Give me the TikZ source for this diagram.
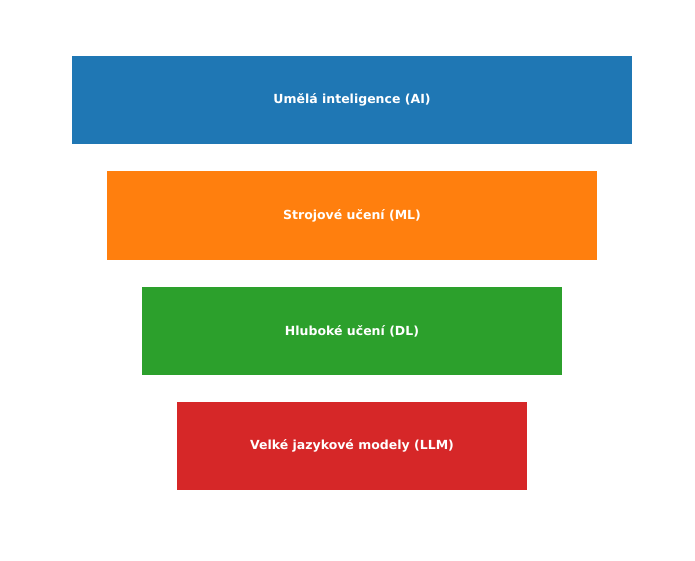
\documentclass[tikz,border=0pt]{standalone}
\usepackage{fontspec}
\setmainfont{DejaVu Sans}
\definecolor{cblue}{HTML}{1F77B4}
\definecolor{corange}{HTML}{FF7F0E}
\definecolor{cgreen}{HTML}{2CA02C}
\definecolor{cred}{HTML}{D62728}
\begin{document}
\begin{tikzpicture}[x=1pt,y=-1pt,
  layer/.style={text=white,font=\fontsize{12.5}{15}\selectfont\bfseries}]
\useasboundingbox (0,0) rectangle (695,560);
\fill[cblue] (72,56) rectangle (632,144);
\node[layer] (ai) at (352,100) {Umělá inteligence (AI)};
\fill[corange] (107,171) rectangle (597,260);
\node[layer] (ml) at (352,215.5) {Strojové učení (ML)};
\fill[cgreen] (142,287) rectangle (562,375);
\node[layer] (dl) at (352,331) {Hluboké učení (DL)};
\fill[cred] (177,402) rectangle (527,490);
\node[layer] (llm) at (352,446) {Velké jazykové modely (LLM)};
\end{tikzpicture}
\end{document}
